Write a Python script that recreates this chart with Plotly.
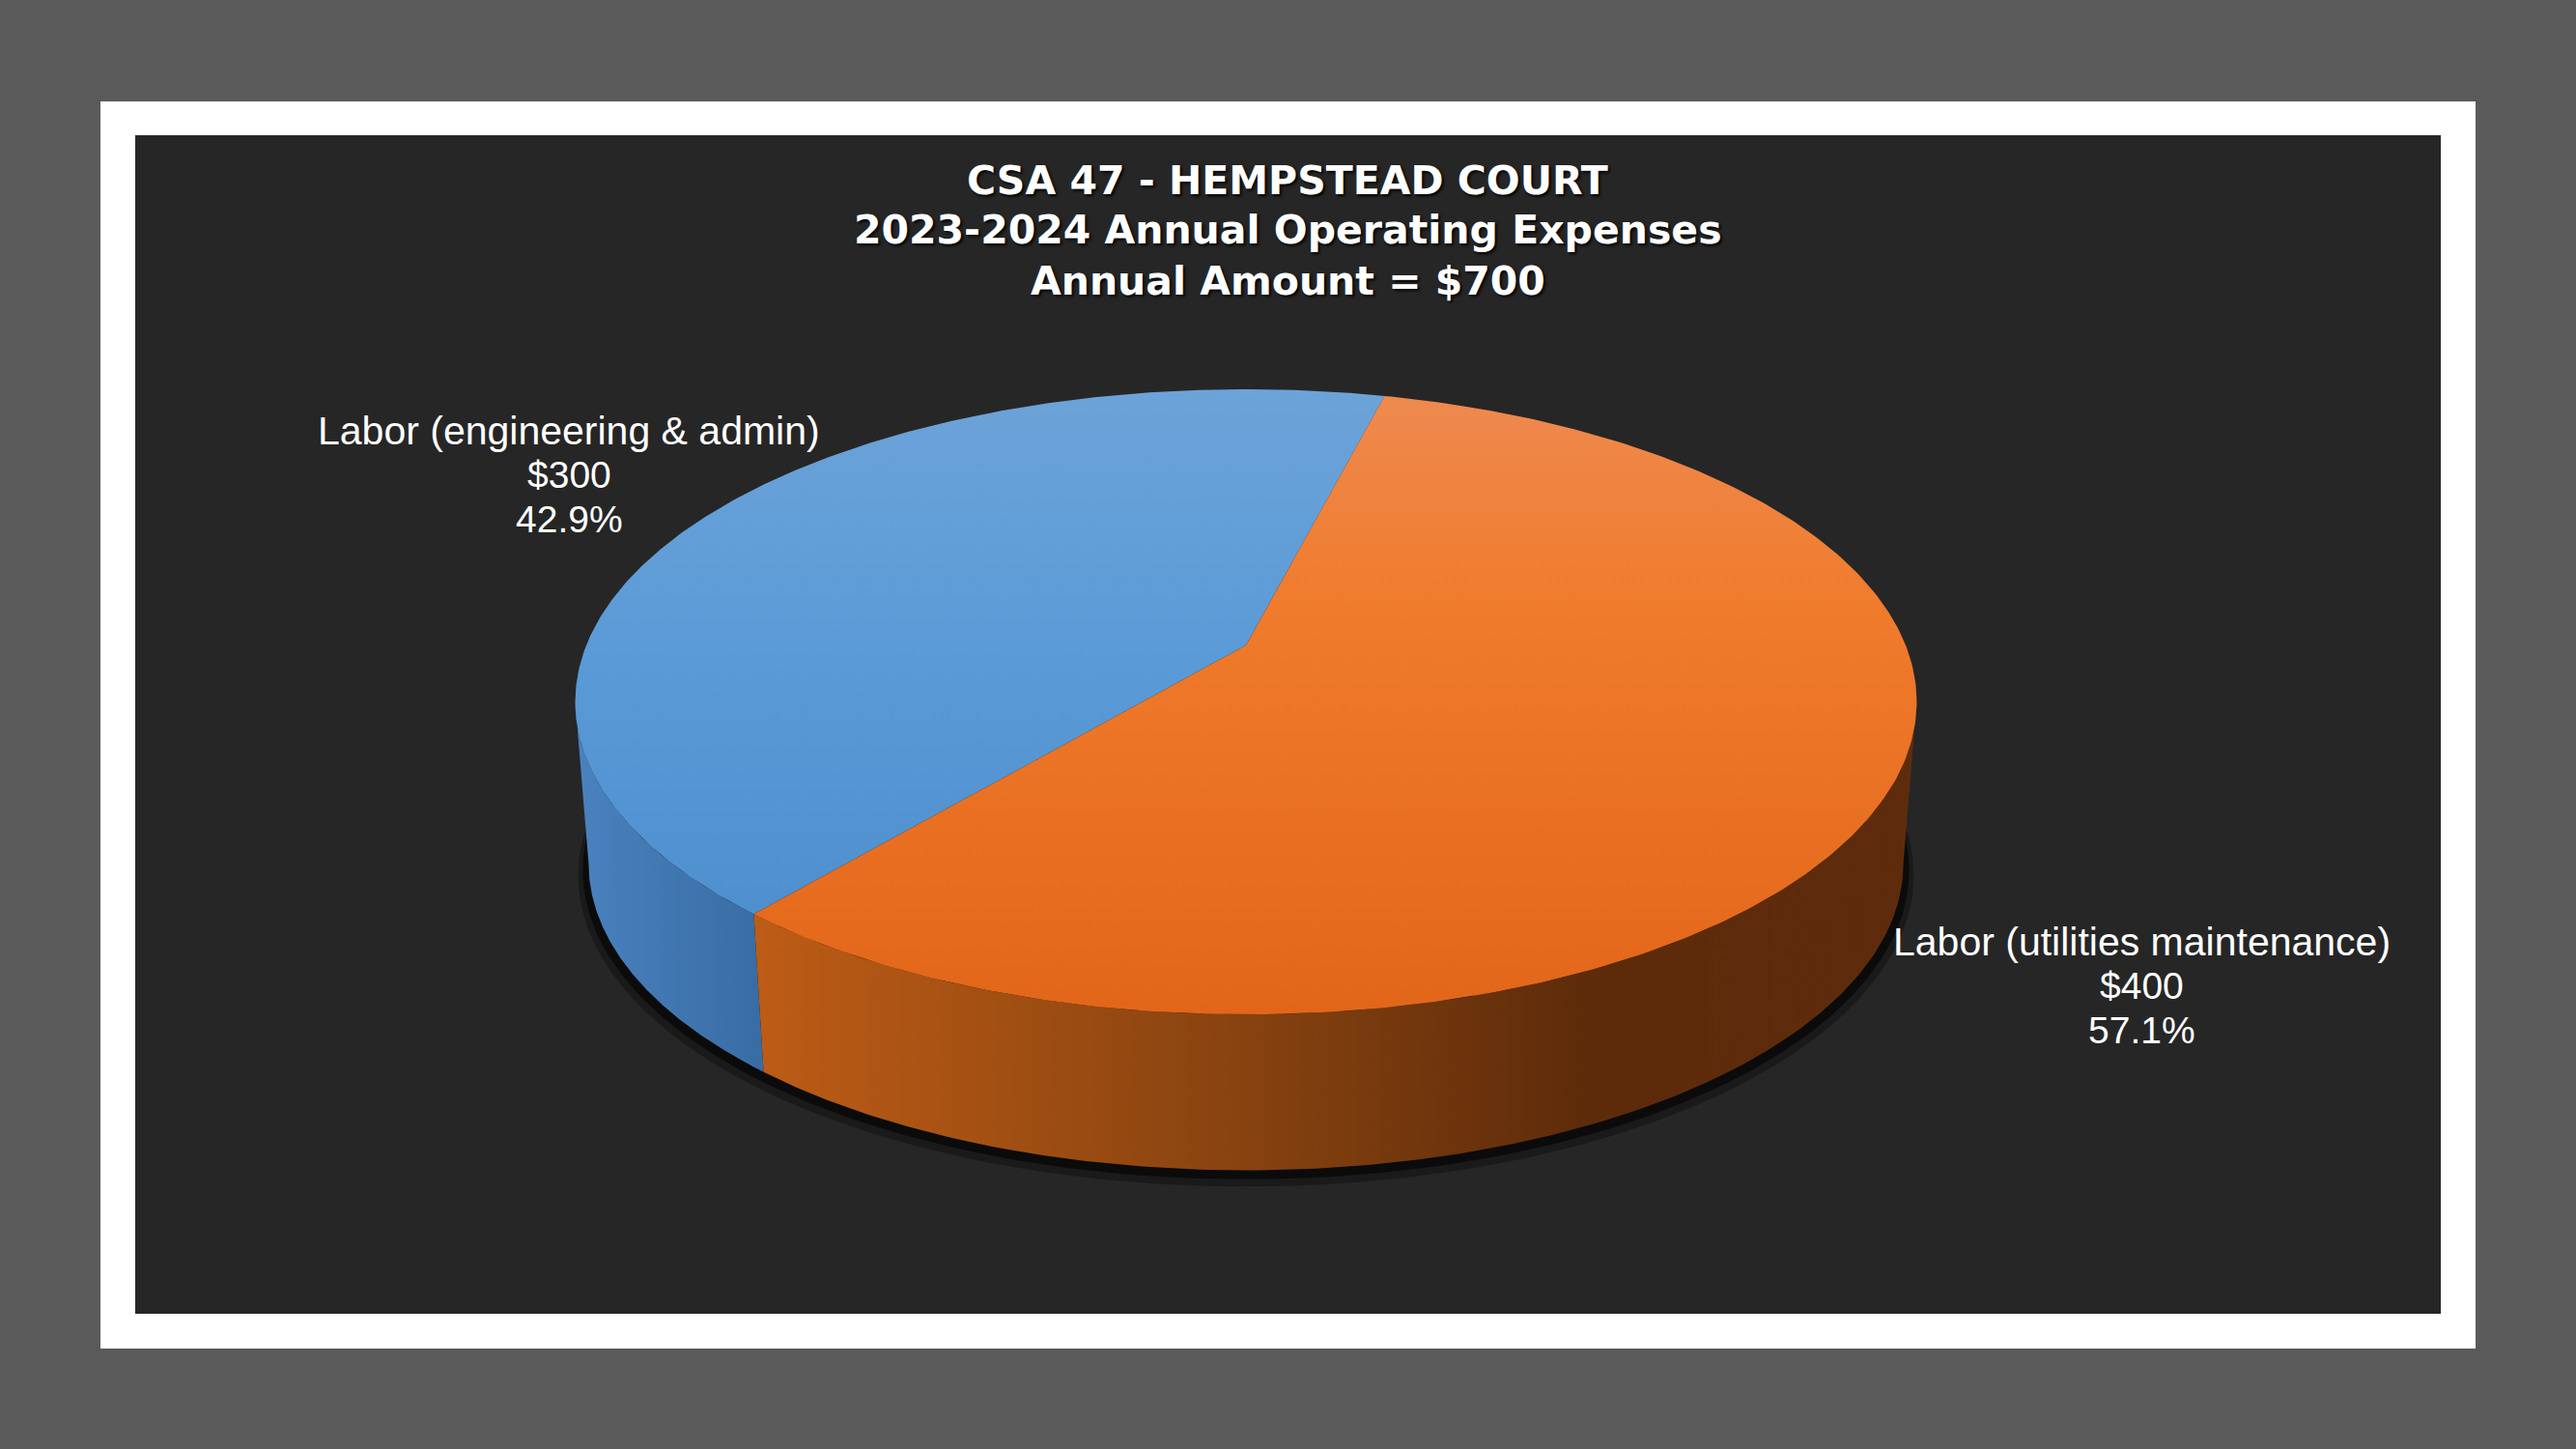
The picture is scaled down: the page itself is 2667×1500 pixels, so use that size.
import numpy as np
import plotly.graph_objects as go

# ---------------- data ----------------
categories = ["Labor (engineering & admin)", "Labor (utilities maintenance)"]
values = [300, 400]
title_lines = ["CSA 47 - HEMPSTEAD COURT",
               "2023-2024 Annual Operating Expenses",
               "Annual Amount = $700"]

# ---------------- styling / geometry ----------------
W, H = 2667, 1500
CX, CY = 1290, 668          # projected centre of the top disk
A, B, K = 683, 313, 0.1808  # perspective ellipse parameters
BOT_SCALE, CY_B = 0.98, 837  # bottom disk
ROT = 220                   # first slice start, degrees clockwise from 12 o'clock

top_scales = [
    [[0, "#6ca3d8"], [0.4, "#5b9bd7"], [1, "#4a8bcb"]],
    [[0, "#ee8a50"], [0.35, "#f07b2c"], [1, "#e2661a"]],
]
wall_scales = [
    [[0, "#4a82bf"], [1, "#386ca4"]],
    [[0, "#bd5c16"], [0.4, "#8a4410"], [0.72, "#5d2b0a"], [1, "#5e2c0c"]],
]


def proj(phi_deg, bottom=False):
    phi = np.radians(phi_deg)
    u, v = np.sin(phi), np.cos(phi)
    d = 1 + K * v
    if bottom:
        return CX + BOT_SCALE * A * u / d, CY_B - BOT_SCALE * B * v / d
    return CX + A * u / d, CY - B * v / d


total = float(sum(values))
bounds = []
start = ROT
for v in values:
    end = start + v / total * 360.0
    bounds.append((start, end))
    start = end

fig = go.Figure()

# shadow below the pie
for sc, dy, alpha in [(1.016, 11, 0.30), (1.009, 6, 0.55)]:
    phis = np.linspace(0, 360, 400)
    bx, by = proj(phis, bottom=True)
    bx = CX + (bx - CX) * sc
    by = CY_B + (by - CY_B) * sc + dy
    fig.add_trace(go.Scatter(x=bx, y=by, fill="toself", mode="lines",
                             line=dict(width=0), fillcolor=f"rgba(0,0,0,{alpha})",
                             hoverinfo="skip", showlegend=False))

# visible outer walls
phi_s = np.degrees(np.arccos(-K))
vis0, vis1 = phi_s, 360 - phi_s
for i, (a0, a1) in enumerate(bounds):
    for shift in (-360, 0, 360):
        lo = max(a0 + shift, vis0)
        hi = min(a1 + shift, vis1)
        if hi > lo:
            ph = np.linspace(lo, hi, 200)
            tx, ty = proj(ph)
            bx, by = proj(ph[::-1], bottom=True)
            xs = np.concatenate([tx, bx, tx[:1]])
            ys = np.concatenate([ty, by, ty[:1]])
            fig.add_trace(go.Scatter(
                x=xs, y=ys, fill="toself", mode="lines", line=dict(width=0),
                fillgradient=dict(type="horizontal", colorscale=wall_scales[i]),
                hoverinfo="skip", showlegend=False))

# top faces
top_y = CY - B / (1 + K)
bot_y = CY + B / (1 - K)
for i, (a0, a1) in enumerate(bounds):
    ph = np.linspace(a0, a1, 300)
    rx, ry = proj(ph)
    xs = np.concatenate([[CX], rx, [CX]])
    ys = np.concatenate([[CY], ry, [CY]])
    fig.add_trace(go.Scatter(
        x=xs, y=ys, fill="toself", mode="lines", line=dict(width=0),
        fillgradient=dict(type="vertical", colorscale=top_scales[i],
                          start=top_y, stop=bot_y),
        name=categories[i], hoverinfo="name", showlegend=False))

# ---------------- text ----------------
annotations = []
title_y = [187, 238, 291]
for t, y in zip(title_lines, title_y):
    annotations.append(dict(
        x=1333, y=y, xref="x", yref="y", text=t, showarrow=False,
        xanchor="center", yanchor="middle",
        font=dict(family="DejaVu Sans", size=41, color="white", weight="bold",
                  shadow="2px 2px 3px rgba(0,0,0,0.9)")))

label_pos = [(589, [446, 491, 537]), (2217, [975, 1020, 1066])]
line_sizes = [41, 39, 39]
for i, (cat, v) in enumerate(zip(categories, values)):
    lines = [cat, f"${v:,}", f"{v / total * 100:.1f}%"]
    lx, ly = label_pos[i]
    for t, y, fs in zip(lines, ly, line_sizes):
        annotations.append(dict(
            x=lx, y=y, xref="x", yref="y", text=t, showarrow=False,
            xanchor="center", yanchor="middle",
            font=dict(family="Liberation Sans, Arial", size=fs, color="white")))

shapes = [
    dict(type="rect", xref="x", yref="y", x0=104, y0=105, x1=2563, y1=1396,
         fillcolor="white", line=dict(width=0), layer="below"),
    dict(type="rect", xref="x", yref="y", x0=140, y0=140, x1=2527, y1=1360,
         fillcolor="#262626", line=dict(width=0), layer="below"),
]

fig.update_layout(
    width=W, height=H,
    margin=dict(l=0, r=0, t=0, b=0, pad=0),
    paper_bgcolor="#5a5a5a", plot_bgcolor="#5a5a5a",
    xaxis=dict(range=[0, W], visible=False, fixedrange=True),
    yaxis=dict(range=[H, 0], visible=False, fixedrange=True),
    shapes=shapes, annotations=annotations, showlegend=False,
)

fig.write_html("out.html", config={"displayModeBar": False},
               post_script="document.body.style.margin='0';")
